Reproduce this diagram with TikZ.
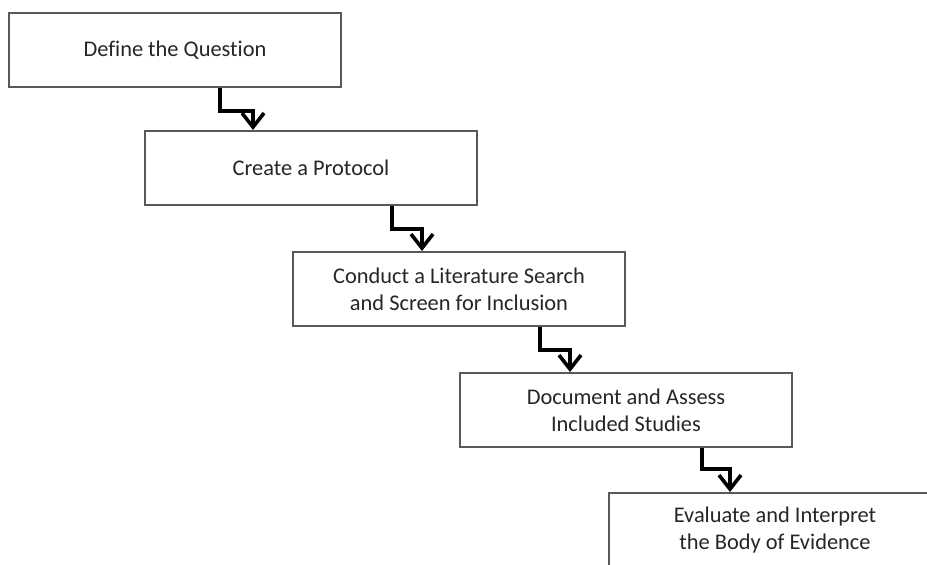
\documentclass[tikz,border=0pt]{standalone}
\usepackage{fontspec}
\setmainfont[Ligatures=NoCommon]{Carlito}
\usetikzlibrary{arrows.meta,calc}
\begin{document}
\begin{tikzpicture}[x=1pt,y=-1pt,
  stepbox/.style={draw=black!65, line width=2pt, fill=white,
    minimum width=332pt, minimum height=74pt, inner sep=0pt,
    align=center, font=\fontsize{22.4}{27}\selectfont, text=black!85},
  flow/.style={line width=3.6pt, line join=miter,
    -{Straight Barb[length=14pt,width=22pt,line width=3.6pt]}}]
  \useasboundingbox (0,0) rectangle (927,565);
  \clip (0,0) rectangle (927,565);

  % process steps, each shifted down and to the right
  \node[stepbox, anchor=north west] (q) at (8,12) {Define the Question};
  \node[stepbox, anchor=north west] (p) at (144,130) {Create a Protocol};
  \node[stepbox, anchor=north west] (s) at (292,251) {Conduct a Literature Search\\and Screen for Inclusion};
  \node[stepbox, anchor=north west] (d) at (459,372) {Document and Assess\\Included Studies};
  \node[stepbox, anchor=north west] (e) at (608,492) {Evaluate and Interpret\\the Body of Evidence};

  % stepped connectors between consecutive steps
  \draw[flow] ([xshift=212pt]q.south west) -- ++(0,23) -| ([xshift=109pt]p.north west);
  \draw[flow] ([xshift=248pt]p.south west) -- ++(0,23) -| ([xshift=130pt]s.north west);
  \draw[flow] ([xshift=248pt]s.south west) -- ++(0,23) -| ([xshift=111pt]d.north west);
  \draw[flow] ([xshift=243pt]d.south west) -- ++(0,21) -| ([xshift=122pt]e.north west);
\end{tikzpicture}
\end{document}
